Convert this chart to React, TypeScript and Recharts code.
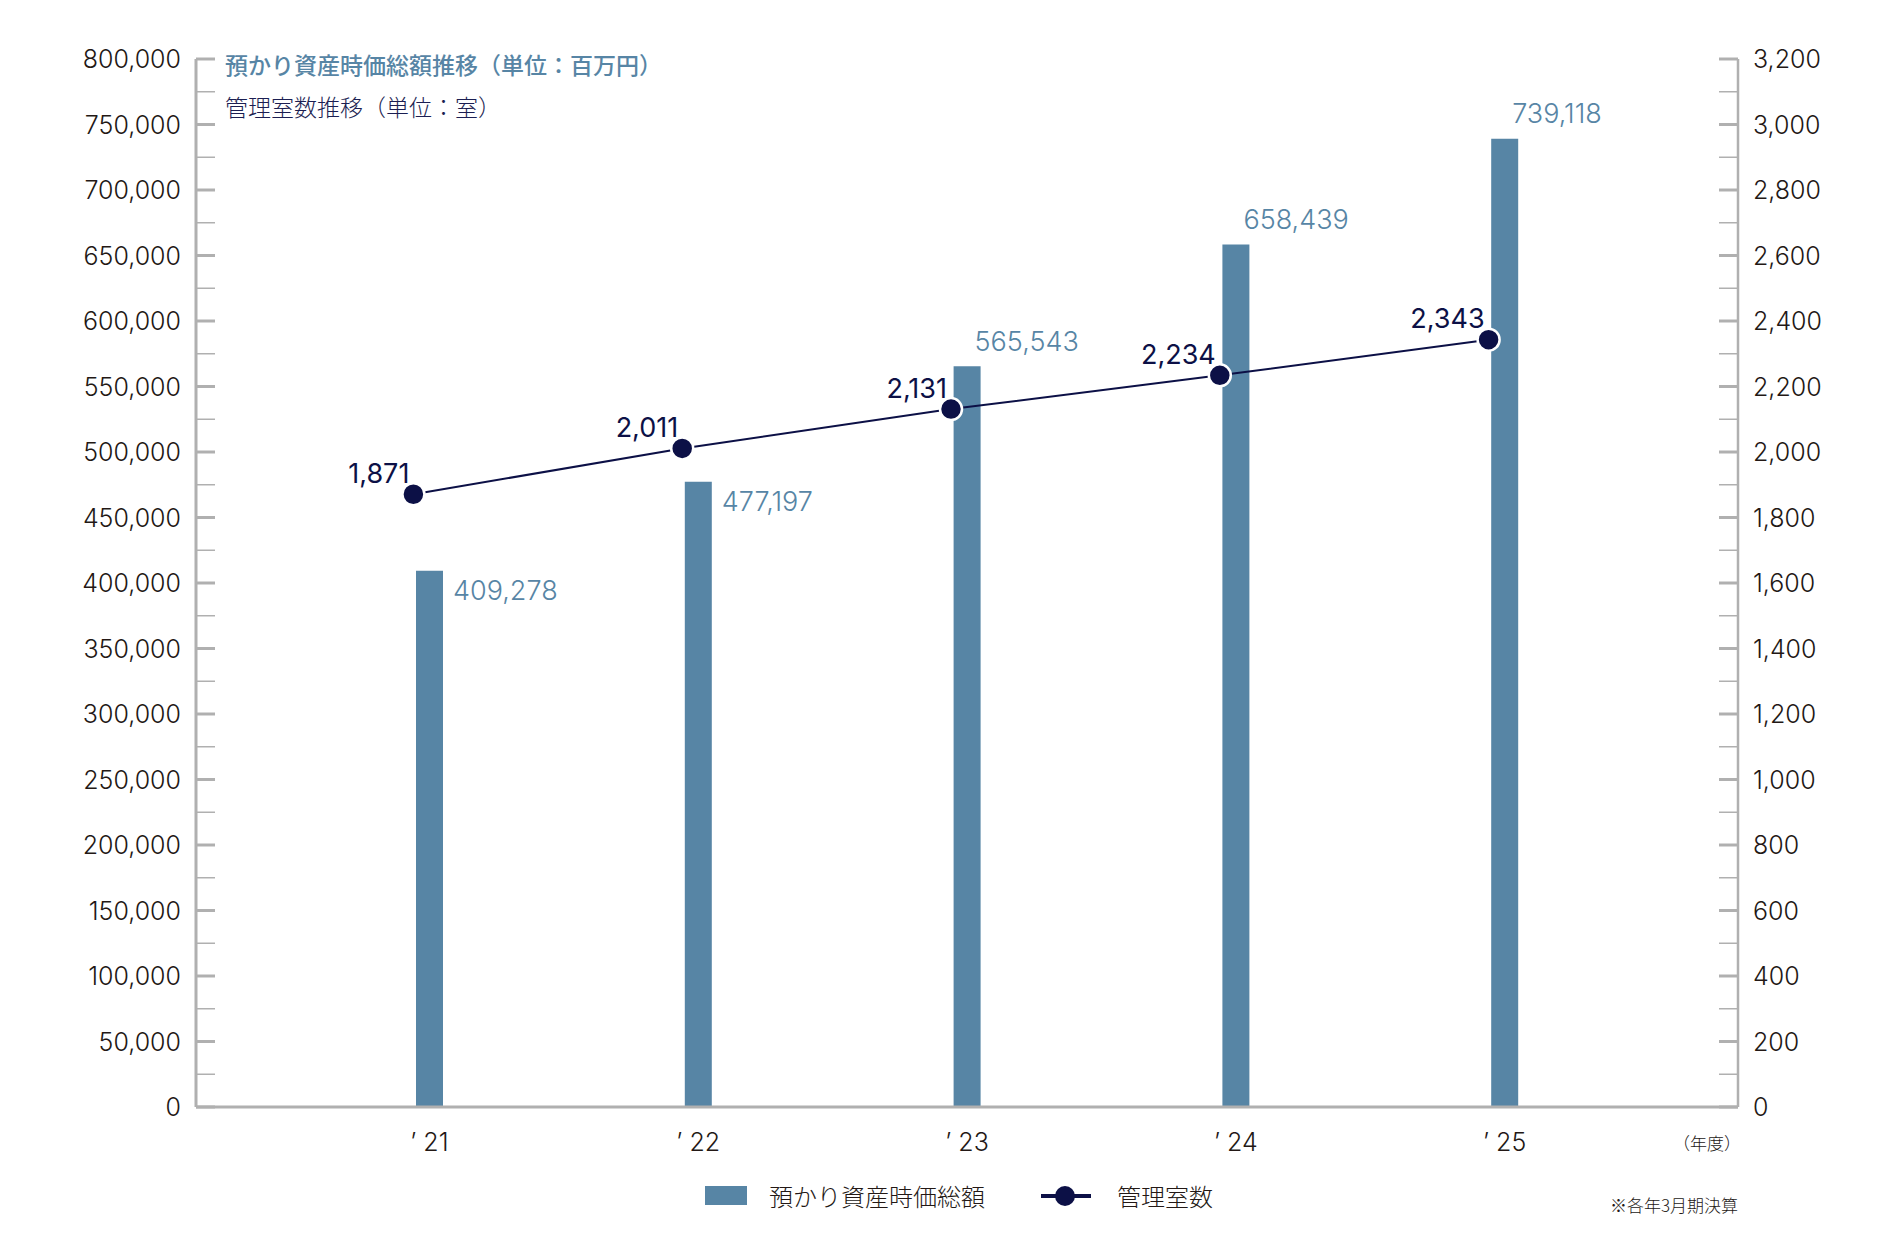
import React from 'react';
import {
  ComposedChart,
  Bar,
  Line,
  XAxis,
  YAxis,
  LabelList,
  Legend,
} from 'recharts';

const YEARS = ['’ 21', '’ 22', '’ 23', '’ 24', '’ 25'];
const ASSETS = [409278, 477197, 565543, 658439, 739118]; // 預かり資産時価総額（百万円）
const ROOMS = [1871, 2011, 2131, 2234, 2343]; // 管理室数

const LEFT_TICKS = Array.from({ length: 33 }, (_, i) => i * 25000);
const RIGHT_TICKS = Array.from({ length: 33 }, (_, i) => i * 100);

const ASSET_NAME = '預かり資産時価総額';
const ROOM_NAME = '管理室数';

const BLUE = '#5785a5';
const NAVY = '#0c1046';
const AXIS = '#b0b0b0';
const INK = '#231815';
const FONT = '"Noto Sans CJK JP", "Noto Sans", sans-serif';
const NUM_FONT = 'Inter, "Noto Sans CJK JP", sans-serif';

const data = YEARS.map((year, i) => ({
  year,
  assets: ASSETS[i],
  rooms: ROOMS[i],
}));

const fmt = (v: number) => v.toLocaleString('en-US');

const LeftTick = ({ x, y, payload }: any) => {
  const v = payload.value;
  const major = v % 50000 === 0;
  const ax = x + 15;
  return (
    <g>
      <line x1={ax} x2={ax + 19} y1={y} y2={y} stroke={AXIS} strokeWidth={major ? 3 : 1.5} />
      {major && (
        <text x={x} y={y} dy="0.36em" textAnchor="end" fill={INK} fontSize={25} fontWeight={300} fontFamily={NUM_FONT}>
          {fmt(v)}
        </text>
      )}
    </g>
  );
};

const RightTick = ({ x, y, payload }: any) => {
  const v = payload.value;
  const major = v % 200 === 0;
  const ax = x - 15;
  return (
    <g>
      <line x1={ax} x2={ax - 19} y1={y} y2={y} stroke={AXIS} strokeWidth={major ? 3 : 1.5} />
      {major && (
        <text x={x} y={y} dy="0.36em" textAnchor="start" fill={INK} fontSize={25} fontWeight={300} fontFamily={NUM_FONT}>
          {fmt(v)}
        </text>
      )}
    </g>
  );
};

const YearTick = ({ x, y, payload }: any) => (
  <text x={x} y={y + 35} dy="0.36em" textAnchor="middle" fill={INK} fontSize={25} fontWeight={300} fontFamily={NUM_FONT}>
    {payload.value}
  </text>
);

// labels of the first two bars sit beside the bar, the rest above it
const AssetLabel = ({ x, y, width, value, index }: any) => {
  const beside = index < 2;
  return (
    <text
      x={beside ? x + width + 10 : x + width - 6}
      y={beside ? y + 19 : y - 25}
      dy="0.36em"
      fill={BLUE}
      fontSize={27}
      fontWeight={300}
      fontFamily={NUM_FONT}
    >
      {fmt(value)}
    </text>
  );
};

const RoomLabel = ({ x, y, value }: any) => (
  <text x={x - 4} y={y - 21} dy="0.36em" textAnchor="end" fill={NAVY} fontSize={27} fontWeight={400} fontFamily={NUM_FONT}>
    {fmt(value)}
  </text>
);

const LegendContent = () => (
  <div style={{ display: 'flex', alignItems: 'center', fontFamily: FONT, fontSize: 24, fontWeight: 300, color: INK }}>
    <span style={{ display: 'inline-block', width: 42, height: 19, background: BLUE, marginRight: 22 }} />
    <span style={{ marginRight: 56 }}>{ASSET_NAME}</span>
    <svg width={50} height={24} style={{ marginRight: 26 }}>
      <line x1={0} x2={50} y1={12} y2={12} stroke={NAVY} strokeWidth={4} />
      <circle cx={24} cy={12} r={10} fill={NAVY} />
    </svg>
    <span>{ROOM_NAME}</span>
  </div>
);

export default function App() {
  return (
    <div style={{ position: 'absolute', left: 0, top: 0, width: 1900, height: 1260, background: '#fff' }}>
      <ComposedChart
        width={1900}
        height={1260}
        data={data}
        margin={{ top: 59, right: 0, bottom: 93, left: 0 }}
      >
        <XAxis
          xAxisId="bar"
          dataKey="year"
          padding={{ left: 99, right: 99 }}
          axisLine={{ stroke: AXIS, strokeWidth: 3 }}
          tickLine={false}
          tickSize={0}
          tickMargin={0}
          tick={<YearTick />}
          height={60}
          interval={0}
        />
        <XAxis xAxisId="line" dataKey="year" padding={{ left: 83, right: 115 }} hide />
        <YAxis
          yAxisId="left"
          domain={[0, 800000]}
          ticks={LEFT_TICKS}
          interval={0}
          width={196}
          axisLine={{ stroke: AXIS, strokeWidth: 3 }}
          tickLine={false}
          tickSize={0}
          tickMargin={15}
          tick={<LeftTick />}
        />
        <YAxis
          yAxisId="right"
          orientation="right"
          domain={[0, 3200]}
          ticks={RIGHT_TICKS}
          interval={0}
          width={162}
          axisLine={{ stroke: AXIS, strokeWidth: 2.5 }}
          tickLine={false}
          tickSize={0}
          tickMargin={15}
          tick={<RightTick />}
        />
        <Bar
          xAxisId="bar"
          yAxisId="left"
          dataKey="assets"
          name={ASSET_NAME}
          fill={BLUE}
          barSize={27}
          isAnimationActive={false}
        >
          <LabelList dataKey="assets" content={<AssetLabel />} />
        </Bar>
        <Line
          xAxisId="line"
          yAxisId="right"
          dataKey="rooms"
          name={ROOM_NAME}
          stroke={NAVY}
          strokeWidth={2}
          dot={{ r: 11, fill: NAVY, stroke: '#fff', strokeWidth: 2.5 }}
          activeDot={false}
          isAnimationActive={false}
        >
          <LabelList dataKey="rooms" content={<RoomLabel />} />
        </Line>
        <Legend
          layout="horizontal"
          align="center"
          verticalAlign="middle"
          wrapperStyle={{ left: 705, top: 1178, width: 600 }}
          content={<LegendContent />}
        />
      </ComposedChart>

      <div style={{ position: 'absolute', left: 225, top: 52, fontFamily: FONT, fontSize: 23, lineHeight: '25px', fontWeight: 500, color: BLUE }}>
        預かり資産時価総額推移（単位：百万円）
      </div>
      <div style={{ position: 'absolute', left: 225, top: 94, fontFamily: FONT, fontSize: 23, lineHeight: '25px', fontWeight: 300, color: '#1b1e52' }}>
        管理室数推移（単位：室）
      </div>
      <div style={{ position: 'absolute', left: 1673, top: 1133, fontFamily: FONT, fontSize: 17, lineHeight: '20px', fontWeight: 300, color: INK }}>
        （年度）
      </div>
      <div style={{ position: 'absolute', left: 1610, top: 1196, fontFamily: FONT, fontSize: 17, lineHeight: '18px', fontWeight: 300, color: INK }}>
        ※各年3月期決算
      </div>
    </div>
  );
}
